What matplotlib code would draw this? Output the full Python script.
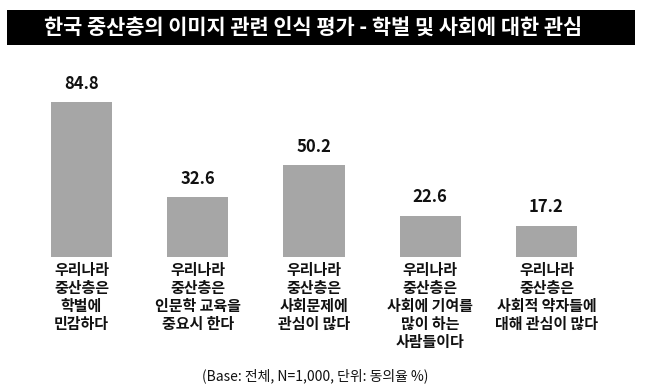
import matplotlib
matplotlib.use("Agg")
import matplotlib.pyplot as plt
from matplotlib.patches import Rectangle

plt.rcParams['font.family'] = ['Noto Sans CJK KR', 'DejaVu Sans']

title = "한국 중산층의 이미지 관련 인식 평가 - 학벌 및 사회에 대한 관심"
categories = [
    "우리나라\n중산층은\n학벌에\n민감하다",
    "우리나라\n중산층은\n인문학 교육을\n중요시 한다",
    "우리나라\n중산층은\n사회문제에\n관심이 많다",
    "우리나라\n중산층은\n사회에 기여를\n많이 하는\n사람들이다",
    "우리나라\n중산층은\n사회적 약자들에\n대해 관심이 많다",
]
values = [84.8, 32.6, 50.2, 22.6, 17.2]
footnote = "(Base: 전체, N=1,000, 단위: 동의율 %)"

W, H = 648, 391
fig = plt.figure(figsize=(W / 100, H / 100), dpi=100)

# title bar
fig.patches.append(Rectangle((7 / W, 1 - 45 / H), 628 / W, 35 / H,
                             transform=fig.transFigure, facecolor='black',
                             edgecolor='none', zorder=0))
fig.text(313 / W, 1 - 28 / H, title, color='white', fontsize=15,
         fontweight='bold', ha='center', va='center')

px_per_unit = 1.83
bottom_px = 257
ax = fig.add_axes([0, (H - bottom_px) / H, 1, bottom_px / H])
ax.set_xlim(-81.5 / 116.25, (W - 81.5) / 116.25)
ax.set_ylim(0, bottom_px / px_per_unit)
ax.axis('off')

xs = list(range(len(values)))
ax.bar(xs, values, width=0.525, color='#a6a6a6', edgecolor='none')
for x, v in zip(xs, values):
    ax.text(x, v + 5, f"{v:.1f}", ha='center', va='bottom', fontsize=12,
            fontweight='bold', color='#111111')
for x, c in zip(xs, categories):
    ax.text(x, -3.0, c, ha='center', va='top', fontsize=10.8,
            fontweight='bold', color='#111111', linespacing=1.15,
            clip_on=False)

fig.text(315 / W, 1 - 376 / H, footnote, ha='center', va='center',
         fontsize=10, fontweight='medium', color='#111111')

fig.savefig("out.png", dpi=100)
